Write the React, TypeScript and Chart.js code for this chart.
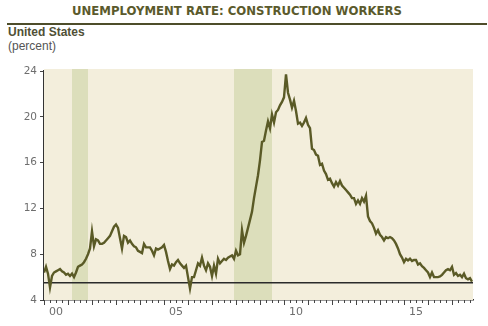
import { useEffect, useRef } from "react";
import { Chart, registerables } from "chart.js";

Chart.register(...registerables);

// Monthly unemployment rate, construction workers (percent), Jan 2000 – Nov 2017
const START_YEAR = 2000;
const rates: number[] = [
  // 2000
  6.4, 6.9, 6.3, 5.1, 6.1, 6.4, 6.5, 6.6, 6.7, 6.5, 6.4, 6.2,
  // 2001
  6.3, 6.1, 6.3, 6.0, 6.4, 6.9, 7.0, 7.1, 7.3, 7.6, 8.0, 8.5,
  // 2002
  10.0, 8.7, 9.3, 9.2, 8.9, 8.9, 9.0, 9.2, 9.4, 9.6, 10.0, 10.4,
  // 2003
  10.6, 10.3, 9.4, 8.5, 9.6, 9.5, 9.0, 9.2, 8.9, 8.7, 8.6, 8.3,
  // 2004
  8.2, 8.1, 8.9, 8.6, 8.6, 8.6, 8.3, 7.9, 8.5, 8.4, 8.5, 8.6,
  // 2005
  8.8, 8.2, 7.4, 6.7, 7.1, 7.0, 7.3, 7.5, 7.2, 7.0, 6.8, 7.0,
  // 2006
  6.0, 5.0, 6.0, 6.0, 6.6, 7.2, 7.0, 7.7, 7.0, 6.6, 7.2, 6.9,
  // 2007
  6.1, 7.0, 6.3, 7.6, 7.2, 7.4, 7.6, 7.5, 7.7, 7.8, 7.9, 7.6,
  // 2008
  8.3, 7.9, 8.0, 10.1, 9.0, 9.6, 10.3, 11.0, 11.7, 12.9, 13.9, 14.9,
  // 2009
  16.2, 17.8, 17.9, 18.8, 19.6, 19.0, 20.2, 19.5, 20.4, 20.6, 21.0, 21.3,
  // 2010
  21.7, 23.7, 22.1, 21.5, 20.8, 21.4, 20.5, 19.4, 19.5, 19.2, 19.5, 19.9,
  // 2011
  19.3, 19.0, 17.2, 17.1, 16.7, 16.6, 15.8, 15.9, 15.3, 15.0, 14.5, 14.6,
  // 2012
  14.2, 13.9, 14.3, 14.0, 14.4, 14.0, 13.8, 13.6, 13.4, 13.2, 12.9, 12.9,
  // 2013
  12.4, 12.7, 12.4, 12.9, 12.6, 13.1, 11.3, 10.9, 10.7, 10.3, 9.8, 10.1,
  // 2014
  9.7, 9.5, 9.2, 9.5, 9.4, 9.5, 9.4, 9.2, 8.9, 8.5, 8.0, 7.7,
  // 2015
  7.3, 7.6, 7.45, 7.6, 7.4, 7.5, 7.5, 7.1, 7.2, 6.95, 6.8, 6.6,
  // 2016
  6.4, 6.0, 6.4, 6.0, 6.0, 6.0, 6.05, 6.2, 6.4, 6.6, 6.7, 6.6,
  // 2017
  6.9, 6.2, 6.35, 6.1, 6.2, 6.0, 6.3, 5.9, 5.8, 5.9, 5.6,
];

// Axis ticks / labels (years measured from START_YEAR)
const yTickValues = [4, 8, 12, 16, 20, 24];
const xLabelYears = [0, 5, 10, 15];
const xTickLabels = ["00", "05", "10", "15"];
const X_MAX = 17.875;

// Recessions (years from START_YEAR)
const recessionStarts = [1.167, 7.917];
const recessionEnds = [1.833, 9.5];

// Horizontal reference level (percent)
const referenceLevel = 5.5;

const PLOT_BG = "#f3eedc";
const BAND_BG = "#dcdebb";
const LINE_COLOR = "#5a5a26";
const AXIS_COLOR = "#333333";
const TICK_TEXT = "#6e6e6e";

const backgroundPlugin = {
  id: "bgBands",
  beforeDatasetsDraw(chart: any) {
    const { ctx, chartArea, scales } = chart;
    const x = scales.x;
    ctx.save();
    ctx.fillStyle = PLOT_BG;
    ctx.fillRect(
      chartArea.left,
      chartArea.top - 2,
      chartArea.right - chartArea.left,
      chartArea.bottom - chartArea.top + 2
    );
    ctx.fillStyle = BAND_BG;
    recessionStarts.forEach((s, i) => {
      const x0 = x.getPixelForValue(s);
      const x1 = x.getPixelForValue(recessionEnds[i]);
      ctx.fillRect(x0, chartArea.top - 2, x1 - x0, chartArea.bottom - chartArea.top + 2);
    });
    ctx.restore();
  },
  afterDraw(chart: any) {
    const { ctx, chartArea, scales } = chart;
    const x = scales.x;
    ctx.save();
    ctx.strokeStyle = "#444444";
    ctx.lineWidth = 1;
    const nQuarters = Math.floor(X_MAX * 4);
    for (let q = 0; q <= nQuarters; q++) {
      const v = q / 4;
      const px = Math.round(x.getPixelForValue(v)) + 0.5;
      const len = q % 4 === 0 ? 5 : 3;
      ctx.beginPath();
      ctx.moveTo(px, chartArea.bottom);
      ctx.lineTo(px, chartArea.bottom + len);
      ctx.stroke();
    }
    ctx.restore();
  },
};

export default function App() {
  const canvasRef = useRef<HTMLCanvasElement | null>(null);

  useEffect(() => {
    if (!canvasRef.current) return;
    const points = rates.map((r, i) => ({ x: i / 12, y: r }));
    const chart = new Chart(canvasRef.current, {
      type: "line",
      data: {
        datasets: [
          {
            label: "Construction unemployment rate",
            data: points,
            borderColor: LINE_COLOR,
            borderWidth: 2.4,
            pointRadius: 0,
            tension: 0,
            order: 1,
          },
          {
            label: "Reference",
            data: [
              { x: 0, y: referenceLevel },
              { x: X_MAX, y: referenceLevel },
            ],
            borderColor: "#2a2a2a",
            borderWidth: 1.5,
            pointRadius: 0,
            order: 2,
          },
        ],
      },
      options: {
        animation: false,
        responsive: false,
        maintainAspectRatio: false,
        layout: { padding: { left: 0, top: 71, right: 15, bottom: 0 } },
        plugins: {
          legend: { display: false },
          tooltip: { enabled: false },
          title: { display: false },
        },
        scales: {
          x: {
            type: "linear",
            min: 0,
            max: X_MAX,
            afterBuildTicks: (s: any) => {
              s.ticks = xLabelYears.map((v) => ({ value: v + 0.5 }));
            },
            afterFit: (s: any) => {
              s.height = 26;
            },
            ticks: {
              autoSkip: false,
              maxRotation: 0,
              padding: 6,
              color: TICK_TEXT,
              font: { family: "DejaVu Sans", size: 11 },
              callback: (v: any) => {
                const idx = xLabelYears.indexOf(Math.round(Number(v) - 0.5));
                return idx >= 0 ? xTickLabels[idx] : "";
              },
            },
            grid: { display: true, drawOnChartArea: false, drawTicks: false },
            border: { display: true, color: AXIS_COLOR, width: 1.5 },
          },
          y: {
            type: "linear",
            min: 4,
            max: 24,
            afterBuildTicks: (s: any) => {
              s.ticks = yTickValues.map((v) => ({ value: v }));
            },
            afterFit: (s: any) => {
              s.width = 44;
            },
            ticks: {
              padding: 3,
              color: TICK_TEXT,
              font: { family: "DejaVu Sans", size: 10.5 },
            },
            grid: {
              display: true,
              drawOnChartArea: false,
              drawTicks: true,
              tickLength: 4,
              color: "#444444",
            },
            border: { display: true, color: AXIS_COLOR, width: 1.5 },
          },
        },
      },
      plugins: [backgroundPlugin],
    });
    return () => chart.destroy();
  }, []);

  return (
    <div
      style={{
        position: "fixed",
        left: 0,
        top: 0,
        width: 488,
        height: 326,
        background: "#ffffff",
        overflow: "hidden",
      }}
    >
      <div
        style={{
          position: "absolute",
          top: 4,
          left: 0,
          width: 474,
          textAlign: "center",
          fontFamily: '"Liberation Sans Narrow", "DejaVu Sans Condensed", sans-serif',
          fontWeight: "bold",
          fontSize: 13,
          lineHeight: "14px",
          color: "#5b5a2c",
          whiteSpace: "nowrap",
        }}
      >
        UNEMPLOYMENT RATE: CONSTRUCTION WORKERS
      </div>
      <div
        style={{
          position: "absolute",
          top: 23,
          left: 7,
          width: 480,
          height: 2,
          background: "#4e4d2a",
        }}
      />
      <div
        style={{
          position: "absolute",
          top: 25.5,
          left: 8,
          fontFamily: '"Liberation Sans", Arial, sans-serif',
          fontWeight: "bold",
          fontSize: 12,
          lineHeight: "12px",
          color: "#505036",
          whiteSpace: "nowrap",
        }}
      >
        United States
      </div>
      <div
        style={{
          position: "absolute",
          top: 39.5,
          left: 8,
          fontFamily: '"Liberation Sans", Arial, sans-serif',
          fontSize: 12,
          lineHeight: "12px",
          color: "#555555",
          whiteSpace: "nowrap",
        }}
      >
        (percent)
      </div>
      <canvas
        ref={canvasRef}
        width={488}
        height={326}
        style={{ position: "absolute", left: 0, top: 0, width: 488, height: 326 }}
      />
    </div>
  );
}
